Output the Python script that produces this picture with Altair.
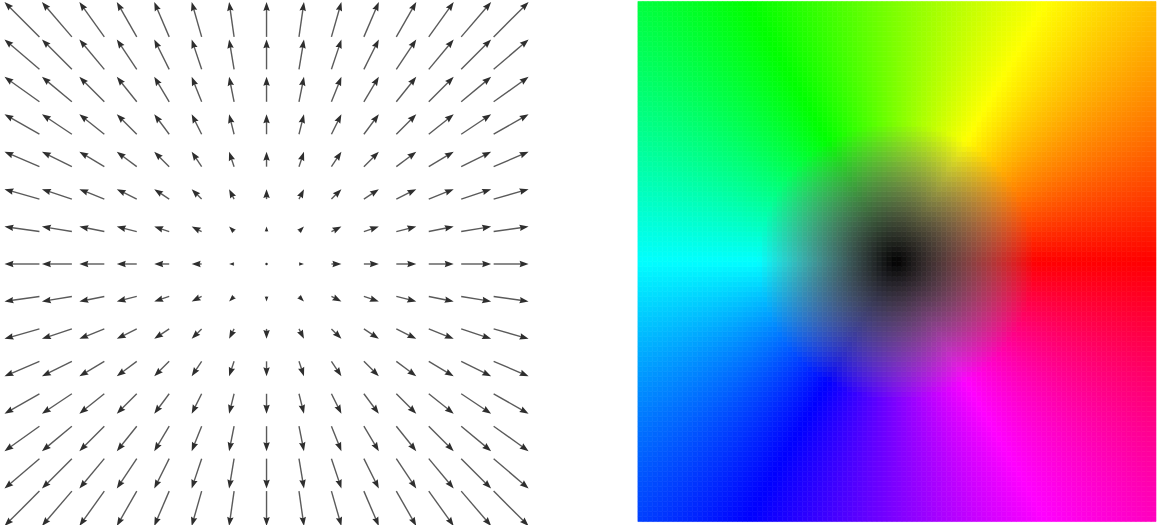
import math
import colorsys

import altair as alt
import pandas as pd

# Sample grid of the source field v(x, y) = (x, y), in grid units
grid_x = list(range(-7, 8))
grid_y = list(range(-7, 8))
arrow_scale = 1 / 7          # drawn arrow length per unit of field magnitude
head_len_px = 9.0            # arrowhead length for long arrows
px_per_unit = 35.0           # plot scale of the quiver panel

# Colour-coded panel: hue = flow direction, saturation/value = magnitude
n_cells = 104
extent = 7.5
sat_radius = 4.0             # magnitude at which the colour reaches full strength

# ---------------- quiver panel ----------------
shafts, heads, dots = [], [], []
for gx in grid_x:
    for gy in grid_y:
        u, v = gx * arrow_scale, gy * arrow_scale
        length = math.hypot(u, v)
        if length == 0:
            dots.append({"x": gx, "y": gy})
            continue
        dx, dy = u / length, v / length
        tail_x, tail_y = gx - u / 2, gy - v / 2
        tip_x, tip_y = gx + u / 2, gy + v / 2
        length_px = length * px_per_unit
        h_px = min(head_len_px, length_px)
        h = h_px / px_per_unit
        end = max(length - 0.7 * h, 0.0)
        shafts.append({
            "x": tail_x, "y": tail_y,
            "x2": tail_x + dx * end, "y2": tail_y + dy * end,
        })
        ang = (math.degrees(math.atan2(u, v)) + 360) % 360
        heads.append({"x": tip_x, "y": tip_y, "angle": ang, "size": 4 * h_px ** 2})

x_dom = [-267 / px_per_unit, 267 / px_per_unit]
y_dom = [-262 / px_per_unit, 263 / px_per_unit]
xs = alt.Scale(domain=x_dom, nice=False, zero=False)
ys = alt.Scale(domain=y_dom, nice=False, zero=False)

shaft_layer = alt.Chart(pd.DataFrame(shafts)).mark_rule(
    color="#5a5a5a", strokeWidth=1.4
).encode(
    x=alt.X("x:Q", scale=xs, axis=None),
    y=alt.Y("y:Q", scale=ys, axis=None),
    x2="x2:Q",
    y2="y2:Q",
)

head_layer = alt.Chart(pd.DataFrame(heads)).mark_point(
    shape="M0,0L0.36,1L0,0.88L-0.36,1Z", filled=True, color="#2e2e2e", opacity=1,
    strokeWidth=0,
).encode(
    x=alt.X("x:Q", scale=xs, axis=None),
    y=alt.Y("y:Q", scale=ys, axis=None),
    angle=alt.Angle("angle:Q", scale=None),
    size=alt.Size("size:Q", scale=None),
)

dot_layer = alt.Chart(pd.DataFrame(dots)).mark_point(
    shape="circle", filled=True, color="#2e2e2e", size=6, opacity=1
).encode(
    x=alt.X("x:Q", scale=xs, axis=None),
    y=alt.Y("y:Q", scale=ys, axis=None),
)

quiver = alt.layer(shaft_layer, head_layer, dot_layer).properties(width=534, height=525)

# ---------------- colour-coded panel ----------------
step = 2 * extent / n_cells
cells = []
for i in range(n_cells):
    x0 = -extent + i * step
    xc = x0 + step / 2
    for j in range(n_cells):
        y0 = -extent + j * step
        yc = y0 + step / 2
        mag = math.hypot(xc, yc)
        hue = (math.atan2(yc, xc) / (2 * math.pi)) % 1.0
        s = min(1.0, mag / sat_radius)
        r, g, b = colorsys.hsv_to_rgb(hue, s, s)
        col = "#%02x%02x%02x" % (round(r * 255), round(g * 255), round(b * 255))
        cells.append({"x0": x0, "x1": x0 + step, "y0": y0, "y1": y0 + step, "c": col})

cs = alt.Scale(domain=[-extent, extent], nice=False, zero=False)
color_panel = alt.Chart(pd.DataFrame(cells)).mark_rect(strokeWidth=0.6).encode(
    x=alt.X("x0:Q", scale=cs, axis=None),
    x2="x1:Q",
    y=alt.Y("y0:Q", scale=cs, axis=None),
    y2="y1:Q",
    color=alt.Color("c:N", scale=None),
    stroke=alt.Stroke("c:N", scale=None),
).properties(width=519, height=521)

chart = alt.hconcat(quiver, color_panel, spacing=104).properties(
    padding=0, background="white"
).configure_view(stroke=None)

chart.save("out.html", embed_options={"renderer": "svg", "actions": False})
